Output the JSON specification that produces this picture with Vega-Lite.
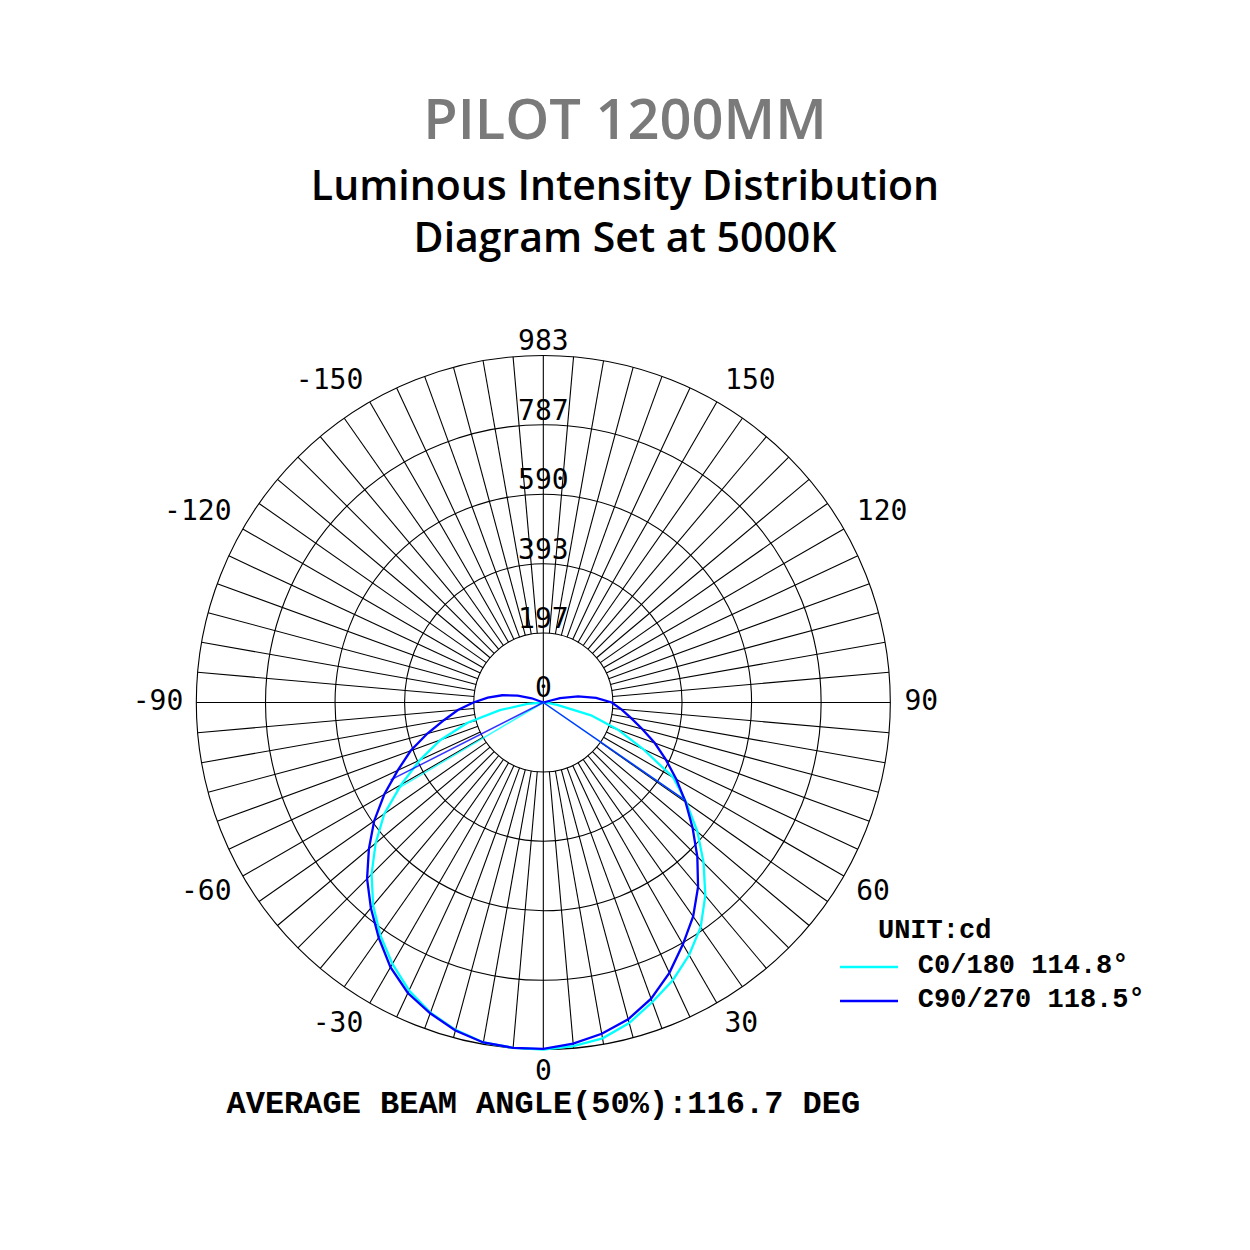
{
  "$schema": "https://vega.github.io/schema/vega-lite/v6.json",
  "width": 1250,
  "height": 950,
  "autosize": {"type": "none"},
  "padding": {"top": 300, "left": 0, "right": 0, "bottom": 0},
  "background": "white",
  "config": {"view": {"stroke": null}},
  "title": {
    "text": "PILOT 1200MM",
    "subtitle": ["Luminous Intensity Distribution", "Diagram Set at 5000K"],
    "anchor": "middle",
    "frame": "group",
    "font": "Open Sans",
    "fontSize": 56,
    "fontWeight": 600,
    "color": "#7a7a7a",
    "subtitleFont": "Open Sans",
    "subtitleFontSize": 41,
    "subtitleFontWeight": 600,
    "subtitleColor": "#000000",
    "subtitleLineHeight": 52,
    "subtitlePadding": 17,
    "offset": 39
  },
  "datasets": {
    "curves": [
      {"series": "C0/180 114.8°", "a": -90, "r": 0},
      {"series": "C0/180 114.8°", "a": -85, "r": 45},
      {"series": "C0/180 114.8°", "a": -80, "r": 125},
      {"series": "C0/180 114.8°", "a": -75, "r": 222},
      {"series": "C0/180 114.8°", "a": -70, "r": 310},
      {"series": "C0/180 114.8°", "a": -65, "r": 386},
      {"series": "C0/180 114.8°", "a": -60, "r": 465},
      {"series": "C0/180 114.8°", "a": -55, "r": 550},
      {"series": "C0/180 114.8°", "a": -50, "r": 620},
      {"series": "C0/180 114.8°", "a": -45, "r": 688},
      {"series": "C0/180 114.8°", "a": -40, "r": 750},
      {"series": "C0/180 114.8°", "a": -35, "r": 805},
      {"series": "C0/180 114.8°", "a": -30, "r": 855},
      {"series": "C0/180 114.8°", "a": -25, "r": 900},
      {"series": "C0/180 114.8°", "a": -20, "r": 935},
      {"series": "C0/180 114.8°", "a": -15, "r": 960},
      {"series": "C0/180 114.8°", "a": -10, "r": 978},
      {"series": "C0/180 114.8°", "a": -5, "r": 982},
      {"series": "C0/180 114.8°", "a": 0, "r": 983},
      {"series": "C0/180 114.8°", "a": 5, "r": 977},
      {"series": "C0/180 114.8°", "a": 10, "r": 966},
      {"series": "C0/180 114.8°", "a": 15, "r": 940},
      {"series": "C0/180 114.8°", "a": 20, "r": 903},
      {"series": "C0/180 114.8°", "a": 25, "r": 868},
      {"series": "C0/180 114.8°", "a": 30, "r": 826},
      {"series": "C0/180 114.8°", "a": 35, "r": 777},
      {"series": "C0/180 114.8°", "a": 40, "r": 714},
      {"series": "C0/180 114.8°", "a": 45, "r": 642},
      {"series": "C0/180 114.8°", "a": 50, "r": 570},
      {"series": "C0/180 114.8°", "a": 55, "r": 495},
      {"series": "C0/180 114.8°", "a": 60, "r": 425},
      {"series": "C0/180 114.8°", "a": 65, "r": 312},
      {"series": "C0/180 114.8°", "a": 70, "r": 225},
      {"series": "C0/180 114.8°", "a": 75, "r": 140},
      {"series": "C0/180 114.8°", "a": 80, "r": 40},
      {"series": "C0/180 114.8°", "a": 85, "r": 12},
      {"series": "C0/180 114.8°", "a": 90, "r": 0},
      {"series": "C90/270 118.5°", "a": -115, "r": 0},
      {"series": "C90/270 118.5°", "a": -110, "r": 35},
      {"series": "C90/270 118.5°", "a": -105, "r": 75},
      {"series": "C90/270 118.5°", "a": -100, "r": 118},
      {"series": "C90/270 118.5°", "a": -95, "r": 158},
      {"series": "C90/270 118.5°", "a": -90, "r": 198},
      {"series": "C90/270 118.5°", "a": -85, "r": 243},
      {"series": "C90/270 118.5°", "a": -80, "r": 285},
      {"series": "C90/270 118.5°", "a": -75, "r": 340},
      {"series": "C90/270 118.5°", "a": -70, "r": 400},
      {"series": "C90/270 118.5°", "a": -65, "r": 455},
      {"series": "C90/270 118.5°", "a": -60, "r": 520},
      {"series": "C90/270 118.5°", "a": -55, "r": 585},
      {"series": "C90/270 118.5°", "a": -50, "r": 645},
      {"series": "C90/270 118.5°", "a": -45, "r": 706},
      {"series": "C90/270 118.5°", "a": -40, "r": 760},
      {"series": "C90/270 118.5°", "a": -35, "r": 813},
      {"series": "C90/270 118.5°", "a": -30, "r": 866},
      {"series": "C90/270 118.5°", "a": -25, "r": 908},
      {"series": "C90/270 118.5°", "a": -20, "r": 937},
      {"series": "C90/270 118.5°", "a": -15, "r": 962},
      {"series": "C90/270 118.5°", "a": -10, "r": 978},
      {"series": "C90/270 118.5°", "a": -5, "r": 982},
      {"series": "C90/270 118.5°", "a": 0, "r": 981},
      {"series": "C90/270 118.5°", "a": 5, "r": 970},
      {"series": "C90/270 118.5°", "a": 10, "r": 953},
      {"series": "C90/270 118.5°", "a": 15, "r": 929},
      {"series": "C90/270 118.5°", "a": 20, "r": 893},
      {"series": "C90/270 118.5°", "a": 25, "r": 845},
      {"series": "C90/270 118.5°", "a": 30, "r": 791},
      {"series": "C90/270 118.5°", "a": 35, "r": 740},
      {"series": "C90/270 118.5°", "a": 40, "r": 682},
      {"series": "C90/270 118.5°", "a": 45, "r": 617},
      {"series": "C90/270 118.5°", "a": 50, "r": 552},
      {"series": "C90/270 118.5°", "a": 55, "r": 492},
      {"series": "C90/270 118.5°", "a": 60, "r": 435},
      {"series": "C90/270 118.5°", "a": 65, "r": 383},
      {"series": "C90/270 118.5°", "a": 70, "r": 336},
      {"series": "C90/270 118.5°", "a": 75, "r": 290},
      {"series": "C90/270 118.5°", "a": 80, "r": 252},
      {"series": "C90/270 118.5°", "a": 85, "r": 222},
      {"series": "C90/270 118.5°", "a": 90, "r": 194},
      {"series": "C90/270 118.5°", "a": 95, "r": 150},
      {"series": "C90/270 118.5°", "a": 100, "r": 100},
      {"series": "C90/270 118.5°", "a": 105, "r": 49},
      {"series": "C90/270 118.5°", "a": 110, "r": 0}
    ],
    "beams": [
      {"series": "C0/180 114.8°", "a": -59.4, "r": 485},
      {"series": "C0/180 114.8°", "a": 55.4, "r": 485},
      {"series": "C90/270 118.5°", "a": -63.1, "r": 485},
      {"series": "C90/270 118.5°", "a": 55.4, "r": 485}
    ],
    "spokes": [
      {"a": -175}, {"a": -170}, {"a": -165}, {"a": -160}, {"a": -155}, {"a": -150},
      {"a": -145}, {"a": -140}, {"a": -135}, {"a": -130}, {"a": -125}, {"a": -120},
      {"a": -115}, {"a": -110}, {"a": -105}, {"a": -100}, {"a": -95}, {"a": -90},
      {"a": -85}, {"a": -80}, {"a": -75}, {"a": -70}, {"a": -65}, {"a": -60},
      {"a": -55}, {"a": -50}, {"a": -45}, {"a": -40}, {"a": -35}, {"a": -30},
      {"a": -25}, {"a": -20}, {"a": -15}, {"a": -10}, {"a": -5}, {"a": 0},
      {"a": 5}, {"a": 10}, {"a": 15}, {"a": 20}, {"a": 25}, {"a": 30},
      {"a": 35}, {"a": 40}, {"a": 45}, {"a": 50}, {"a": 55}, {"a": 60},
      {"a": 65}, {"a": 70}, {"a": 75}, {"a": 80}, {"a": 85}, {"a": 90},
      {"a": 95}, {"a": 100}, {"a": 105}, {"a": 110}, {"a": 115}, {"a": 120},
      {"a": 125}, {"a": 130}, {"a": 135}, {"a": 140}, {"a": 145}, {"a": 150},
      {"a": 155}, {"a": 160}, {"a": 165}, {"a": 170}, {"a": 175}, {"a": 180}
    ],
    "rings": [{"r": 197}, {"r": 393}, {"r": 590}, {"r": 787}, {"r": 983}],
    "ringLabels": [{"r": 0}, {"r": 197}, {"r": 393}, {"r": 590}, {"r": 787}, {"r": 983}],
    "angleLabels": [
      {"a": 0}, {"a": 30}, {"a": 60}, {"a": 90}, {"a": 120}, {"a": 150},
      {"a": -30}, {"a": -60}, {"a": -90}, {"a": -120}, {"a": -150}
    ],
    "legend": [
      {"series": "C0/180 114.8°", "i": 0},
      {"series": "C90/270 118.5°", "i": 1}
    ],
    "notes": [
      {"note": "UNIT:cd", "kind": "unit"},
      {"note": "AVERAGE BEAM ANGLE(50%):116.7 DEG", "kind": "avg"}
    ]
  },
  "layer": [
    {
      "data": {"name": "spokes"},
      "transform": [
        {"calculate": "(datum.a % 90 == 0) ? 0 : 197", "as": "r0"},
        {"calculate": "datum.r0*sin(datum.a*PI/180)", "as": "x"},
        {"calculate": "-datum.r0*cos(datum.a*PI/180)", "as": "y"},
        {"calculate": "983*sin(datum.a*PI/180)", "as": "xe"},
        {"calculate": "-983*cos(datum.a*PI/180)", "as": "ye"}
      ],
      "mark": {"type": "rule", "stroke": "#000000", "strokeWidth": 1.1},
      "encoding": {
        "x": {"field": "x", "type": "quantitative", "scale": {"domain": [-1539.1, 2001.9], "nice": false, "zero": false}, "axis": null},
        "y": {"field": "y", "type": "quantitative", "scale": {"domain": [-1551.0, 1140.2], "nice": false, "zero": false}, "axis": null},
        "x2": {"field": "xe"},
        "y2": {"field": "ye"}
      }
    },
    {
      "data": {"name": "rings"},
      "mark": {"type": "arc", "theta": 0, "theta2": 6.2832, "filled": false, "stroke": "#000000", "strokeWidth": 1.1},
      "encoding": {
        "x": {"datum": 0, "type": "quantitative"},
        "y": {"datum": 0, "type": "quantitative"},
        "radius": {"field": "r", "type": "quantitative", "stack": null, "scale": {"type": "linear", "domain": [0, 983], "range": [0, 347], "zero": true}, "legend": null}
      }
    },
    {
      "data": {"name": "ringLabels"},
      "transform": [
        {"calculate": "0", "as": "x"},
        {"calculate": "datum.r + 37", "as": "y"},
        {"calculate": "toString(datum.r)", "as": "label"}
      ],
      "mark": {"type": "text", "font": "DejaVu Sans Mono", "fontSize": 28, "align": "center", "baseline": "middle", "color": "#000000"},
      "encoding": {
        "x": {"field": "x", "type": "quantitative"},
        "y": {"field": "y", "type": "quantitative"},
        "text": {"field": "label"}
      }
    },
    {
      "data": {"name": "angleLabels"},
      "transform": [
        {"calculate": "abs(datum.a)", "as": "n"},
        {"calculate": "length(toString(datum.n))*18", "as": "w"},
        {"calculate": "sin(datum.a*PI/180)", "as": "sx"},
        {"calculate": "cos(datum.a*PI/180)", "as": "cy"},
        {"calculate": "360*datum.sx + (datum.sx > 0.01 ? 1 : (datum.sx < -0.01 ? -1 : 0))*datum.w/2", "as": "px"},
        {"calculate": "360*datum.cy + (datum.cy > 0.01 ? 1 : (datum.cy < -0.01 ? -1 : 0))*10", "as": "pd"},
        {"calculate": "datum.px/0.353", "as": "x"},
        {"calculate": "-datum.pd/0.353", "as": "y"},
        {"calculate": "toString(datum.a)", "as": "label"},
        {"filter": "datum.a >= 0"}
      ],
      "mark": {"type": "text", "font": "DejaVu Sans Mono", "fontSize": 28, "align": "center", "baseline": "middle", "color": "#000000"},
      "encoding": {
        "x": {"field": "x", "type": "quantitative"},
        "y": {"field": "y", "type": "quantitative"},
        "text": {"field": "label"}
      }
    },
    {
      "data": {"name": "angleLabels"},
      "transform": [
        {"calculate": "abs(datum.a)", "as": "n"},
        {"calculate": "length(toString(datum.n))*18", "as": "w"},
        {"calculate": "sin(datum.a*PI/180)", "as": "sx"},
        {"calculate": "cos(datum.a*PI/180)", "as": "cy"},
        {"calculate": "360*datum.sx + (datum.sx > 0.01 ? 1 : (datum.sx < -0.01 ? -1 : 0))*datum.w/2", "as": "px"},
        {"calculate": "360*datum.cy + (datum.cy > 0.01 ? 1 : (datum.cy < -0.01 ? -1 : 0))*10", "as": "pd"},
        {"calculate": "(datum.px + datum.w/2)/0.353", "as": "x"},
        {"calculate": "-datum.pd/0.353", "as": "y"},
        {"calculate": "toString(datum.a)", "as": "label"},
        {"filter": "datum.a < 0"}
      ],
      "mark": {"type": "text", "font": "DejaVu Sans Mono", "fontSize": 28, "align": "right", "baseline": "middle", "color": "#000000"},
      "encoding": {
        "x": {"field": "x", "type": "quantitative"},
        "y": {"field": "y", "type": "quantitative"},
        "text": {"field": "label"}
      }
    },
    {
      "data": {"name": "curves"},
      "transform": [
        {"calculate": "datum.r*sin(datum.a*PI/180)", "as": "x"},
        {"calculate": "-datum.r*cos(datum.a*PI/180)", "as": "y"}
      ],
      "mark": {"type": "line", "strokeWidth": 2.3, "interpolate": "linear"},
      "encoding": {
        "x": {"field": "x", "type": "quantitative"},
        "y": {"field": "y", "type": "quantitative"},
        "order": {"field": "a", "type": "quantitative"},
        "color": {"field": "series", "type": "nominal", "scale": {"domain": ["C0/180 114.8°", "C90/270 118.5°"], "range": ["#00FFFF", "#0000FF"]}, "legend": null}
      }
    },
    {
      "data": {"name": "beams"},
      "transform": [
        {"calculate": "0", "as": "x"},
        {"calculate": "0", "as": "y"},
        {"calculate": "datum.r*sin(datum.a*PI/180)", "as": "xe"},
        {"calculate": "-datum.r*cos(datum.a*PI/180)", "as": "ye"}
      ],
      "mark": {"type": "rule", "strokeWidth": 1.5, "opacity": 0.8},
      "encoding": {
        "x": {"field": "x", "type": "quantitative"},
        "y": {"field": "y", "type": "quantitative"},
        "x2": {"field": "xe"},
        "y2": {"field": "ye"},
        "color": {"field": "series", "type": "nominal", "legend": null}
      }
    },
    {
      "data": {"name": "legend"},
      "transform": [
        {"calculate": "-749.3 - datum.i*96.3", "as": "ly"},
        {"calculate": "840.5", "as": "lx"},
        {"calculate": "1004.8", "as": "lx2"}
      ],
      "mark": {"type": "rule", "strokeWidth": 2.3},
      "encoding": {
        "x": {"field": "lx", "type": "quantitative"},
        "x2": {"field": "lx2"},
        "y": {"field": "ly", "type": "quantitative"},
        "color": {"field": "series", "type": "nominal", "legend": null}
      }
    },
    {
      "data": {"name": "legend"},
      "transform": [
        {"calculate": "-743.6 - datum.i*96.3", "as": "ly"},
        {"calculate": "1061", "as": "lx"}
      ],
      "mark": {"type": "text", "font": "Liberation Mono", "fontWeight": "bold", "fontSize": 27, "align": "left", "baseline": "middle", "color": "#000000"},
      "encoding": {
        "x": {"field": "lx", "type": "quantitative"},
        "y": {"field": "ly", "type": "quantitative"},
        "text": {"field": "series"}
      }
    },
    {
      "data": {"name": "notes"},
      "transform": [
        {"filter": "datum.kind == 'unit'"},
        {"calculate": "948", "as": "nx"},
        {"calculate": "-644.5", "as": "ny"}
      ],
      "mark": {"type": "text", "font": "Liberation Mono", "fontWeight": "bold", "fontSize": 27, "align": "left", "baseline": "middle", "color": "#000000"},
      "encoding": {
        "x": {"field": "nx", "type": "quantitative"},
        "y": {"field": "ny", "type": "quantitative"},
        "text": {"field": "note"}
      }
    },
    {
      "data": {"name": "notes"},
      "transform": [
        {"filter": "datum.kind == 'avg'"},
        {"calculate": "0", "as": "nx"},
        {"calculate": "-1135", "as": "ny"}
      ],
      "mark": {"type": "text", "font": "Liberation Mono", "fontWeight": "bold", "fontSize": 32, "align": "center", "baseline": "middle", "color": "#000000"},
      "encoding": {
        "x": {"field": "nx", "type": "quantitative"},
        "y": {"field": "ny", "type": "quantitative"},
        "text": {"field": "note"}
      }
    }
  ]
}
